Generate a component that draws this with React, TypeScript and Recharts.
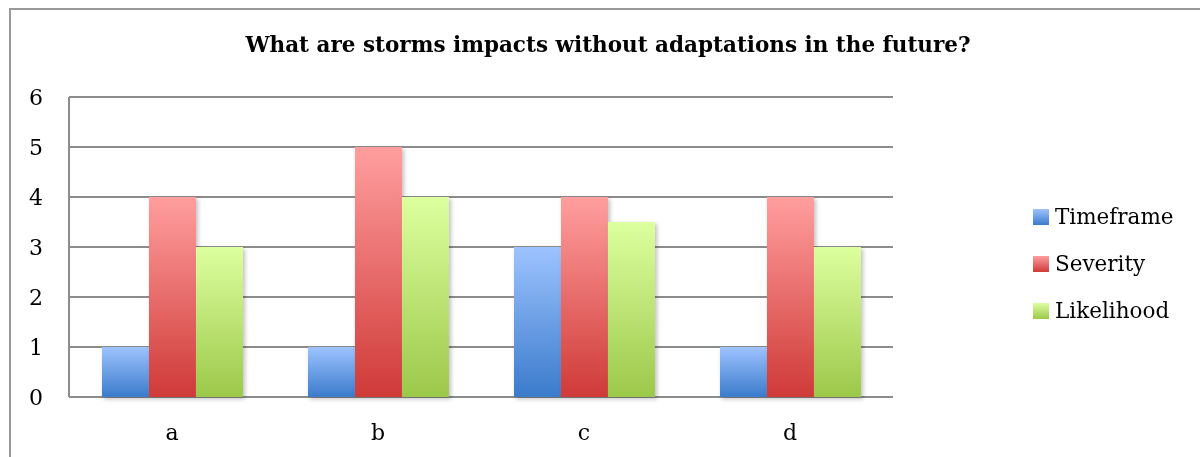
import React from "react";
import { BarChart, Bar, XAxis, YAxis, CartesianGrid } from "recharts";

const categories = ["a", "b", "c", "d"];
const timeframe = [1, 1, 3, 1];
const severity = [4, 5, 4, 4];
const likelihood = [3, 4, 3.5, 3];
const yTicks = [0, 1, 2, 3, 4, 5, 6];
const title = "What are storms impacts without adaptations in the future?";

const seriesNames = ["Timeframe", "Severity", "Likelihood"];
const seriesKeys = ["timeframe", "severity", "likelihood"];
const gradTop = ["#9dc3ff", "#ff9e9e", "#ddff9f"];
const gradBottom = ["#3b7bcb", "#cf3a38", "#9cc84a"];

const data = categories.map((c, i) => ({
  name: c,
  timeframe: timeframe[i],
  severity: severity[i],
  likelihood: likelihood[i],
}));

const FONT = "'DejaVu Serif', serif";

export default function App() {
  return (
    <div style={{ position: "relative", width: 1192, height: 441, overflow: "hidden" }}>
      <div
        style={{
          position: "fixed",
          left: 9,
          top: 8,
          width: 1300,
          height: 600,
          borderLeft: "2px solid #999",
          borderTop: "2px solid #999",
        }}
      />
      <div
        style={{
          position: "absolute",
          left: 4,
          top: 26,
          width: 1192,
          textAlign: "center",
          fontFamily: FONT,
          fontWeight: "bold",
          fontSize: 21.5,
          lineHeight: "21px",
          color: "#000",
          whiteSpace: "nowrap",
        }}
      >
        {title}
      </div>
      <div style={{ position: "absolute", left: 0, top: 0 }}>
        <BarChart
          width={1192}
          height={449}
          data={data}
          margin={{ top: 89, right: 307, bottom: 30, left: 0 }}
          barCategoryGap="16%"
          barGap={0}
        >
          <defs>
            {seriesKeys.map((k, i) => (
              <linearGradient key={k} id={"g_" + k} x1="0" y1="0" x2="0" y2="1">
                <stop offset="0%" stopColor={gradTop[i]} />
                <stop offset="100%" stopColor={gradBottom[i]} />
              </linearGradient>
            ))}
            <filter id="shadow" x="-20%" y="-20%" width="140%" height="140%">
              <feDropShadow dx="2" dy="2" stdDeviation="2" floodColor="#000" floodOpacity="0.25" />
            </filter>
          </defs>
          <CartesianGrid vertical={false} stroke="#8c8c8c" strokeWidth={2} />
          <XAxis
            dataKey="name"
            axisLine={false}
            tickLine={false}
            tickSize={0}
            tickMargin={27}
            height={30}
            tick={{ fill: "#000", fontSize: 22, fontFamily: FONT }}
          />
          <YAxis
            domain={[0, 6]}
            ticks={yTicks}
            width={61}
            axisLine={{ stroke: "#8c8c8c", strokeWidth: 2 }}
            tickLine={false}
            tickSize={0}
            tickMargin={26}
            tick={{ fill: "#000", fontSize: 22, fontFamily: FONT }}
          />
          {seriesKeys.map((k, i) => (
            <Bar
              key={k}
              dataKey={k}
              name={seriesNames[i]}
              fill={"url(#g_" + k + ")"}
              filter="url(#shadow)"
              isAnimationActive={false}
            />
          ))}
        </BarChart>
      </div>
      {seriesNames.map((n, i) => (
        <div
          key={n}
          style={{
            position: "absolute",
            left: 1025,
            top: 201 + i * 47,
            height: 16,
            display: "flex",
            alignItems: "center",
            whiteSpace: "nowrap",
          }}
        >
          <div
            style={{
              width: 16,
              height: 16,
              background: `linear-gradient(${gradTop[i]}, ${gradBottom[i]})`,
            }}
          />
          <span
            style={{
              marginLeft: 6,
              fontFamily: FONT,
              fontSize: 21.5,
              color: "#000",
              position: "relative",
              top: -1,
            }}
          >
            {n}
          </span>
        </div>
      ))}
    </div>
  );
}
